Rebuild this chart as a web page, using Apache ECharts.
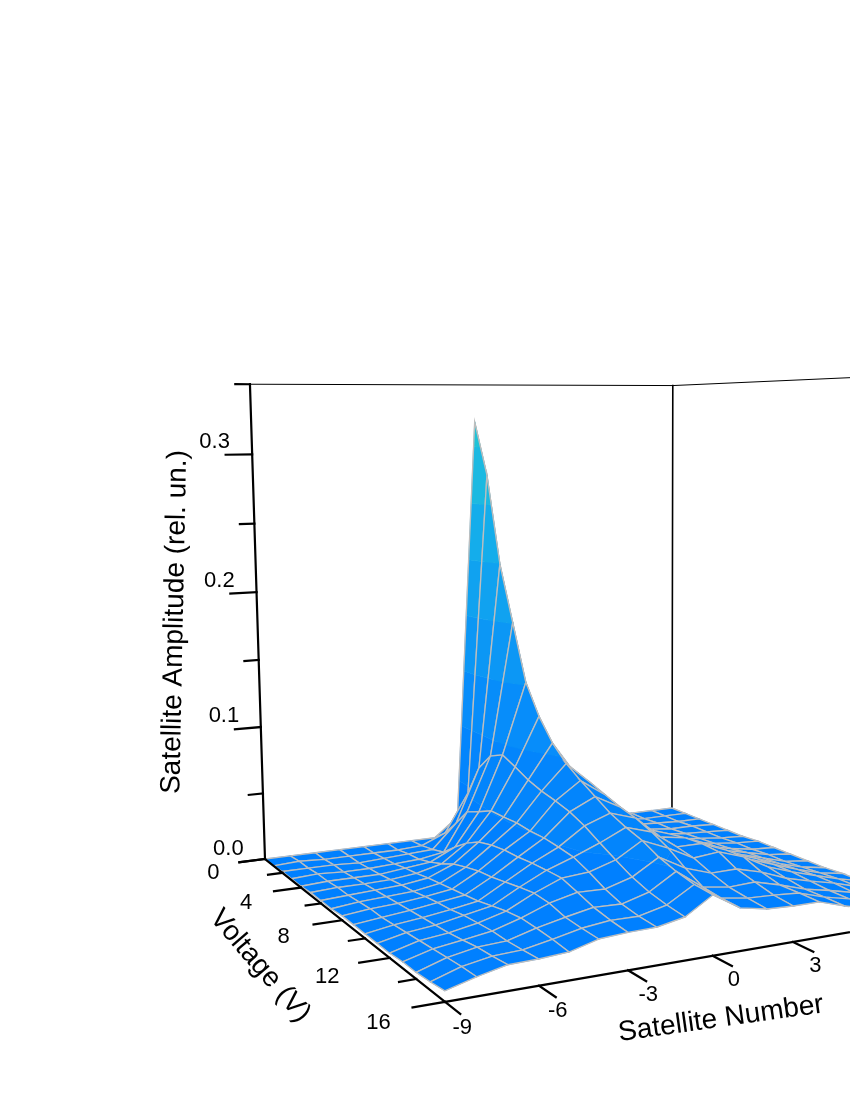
<!DOCTYPE html>
<html><head><meta charset="utf-8">
<style>html,body{margin:0;padding:0;background:#fff}#c{width:850px;height:1100px}</style>
<script src="https://cdn.jsdelivr.net/npm/echarts@6/dist/echarts.min.js"></script>
</head><body><div id="c"></div>
<script>
// Satellite numbers (columns) and voltages (rows)
const satelliteNumbers = [-9,-8,-7,-6,-5,-4,-3,-2,-1,0,1,2,3,4,5,6,7,8,9];
const voltages = [0,1,2,3,4,5,6,7,8,9,10,11,12,13,14,15,16];
// Amplitude per satellite number, one value per voltage
const ampM9 = [0,0,.001,.001,.001,.002,.002,.002,.003,.003,.003,.003,.003,.004,.004,.005,.0064];
const ampM8 = [0,.001,.001,.002,.002,.003,.003,.004,.005,.005,.006,.007,.008,.009,.010,.011,.0115];
const ampM7 = [0,0,.001,.001,.002,.003,.004,.005,.006,.007,.008,.009,.010,.0116,.0134,.0142,.0155];
const ampM6 = [0,0,0,.001,.002,.0035,.005,.006,.008,.0095,.0105,.0125,.0135,.0144,.0143,.015,.0159];
const ampM5 = [0,0,.001,.002,.004,.0055,.0075,.009,.0106,.012,.0136,.016,.0184,.0198,.0194,.0186,.0171];
const ampM4 = [0,0,.002,.003,.006,.010,.015,.018,.0205,.0217,.0237,.0257,.0273,.0265,.0234,.0225,.022];
const ampM3 = [0,.001,.003,.006,.0148,.0228,.0285,.0312,.0327,.0329,.0339,.0344,.0345,.0308,.0269,.0246,.0232];
const ampM2 = [0,.0087,.021,.0344,.039,.0442,.0443,.0447,.0437,.0437,.0424,.0407,.036,.0303,.0263,.0244,.0235];
const ampM1 = [.0144,.038,.0617,.0748,.0795,.0745,.069,.0653,.0627,.0595,.0545,.0478,.0415,.0355,.0313,.0287,.027];
const amp0  = [.322,.282,.216,.174,.132,.110,.094,.083,.075,.068,.061,.056,.052,.046,.042,.039,.038];
const ampP1 = [.010,.030,.045,.055,.062,.067,.068,.067,.0627,.0585,.0554,.0506,.0446,.0364,.0293,.0277,.0272];
const ampP2 = [.002,.008,.016,.024,.030,.034,.038,.040,.041,.041,.040,.038,.0355,.0306,.0267,.0251,.0238];
const ampP3 = [.001,.003,.007,.012,.016,.020,.024,.028,.032,.035,.037,.038,.0372,.0308,.0275,.0244,.023];
const ampP4 = [0,.002,.004,.006,.009,.012,.015,.019,.023,.027,.030,.031,.0314,.0262,.0229,.0231,.023];
const ampP5 = [0,.001,.002,.004,.006,.008,.010,.013,.016,.019,.021,.022,.022,.0195,.0175,.0178,.0176];
const ampP6 = [0,.001,.002,.003,.004,.005,.007,.009,.011,.013,.015,.016,.016,.015,.014,.014,.014];
const ampP7 = [0,0,.001,.001,.002,.003,.004,.005,.007,.008,.009,.010,.011,.011,.010,.010,.010];
const ampP8 = [0,0,0,.001,.001,.001,.002,.002,.003,.003,.004,.005,.006,.006,.006,.006,.006];
const ampP9 = [0,0,0,0,0,0,.001,.001,.001,.001,.001,.002,.002,.002,.002,.003,.003];
const amplitude = [ampM9,ampM8,ampM7,ampM6,ampM5,ampM4,ampM3,ampM2,ampM1,amp0,ampP1,ampP2,ampP3,ampP4,ampP5,ampP6,ampP7,ampP8,ampP9];
// Axis ticks
const ampTicks = [0,.05,.1,.15,.2,.25,.3,.35];
const ampLabels = {0:'0.0',.1:'0.1',.2:'0.2',.3:'0.3'};
const voltTicks = [0,2,4,6,8,10,12,14,16];
const voltLabels = {0:'0',4:'4',8:'8',12:'12',16:'16'};
const satTicks = [-9,-6,-3,0,3,6,9];
const bandColors = ['#0080ff','#0385fc','#078dfa','#0c97f5','#10a2f0','#14adeb','#1cb9e1','#1fc3d7'];
const bandStep = 0.0433;

// Perspective view: (satellite, voltage, amplitude) -> chart coordinate
function proj(s, v, a) {
  const p = s + 9;
  const w = 1 + .006876*p - .01556*v - .108*a;
  return [(265 + 27.23*p + 4.326*v - 70*a)/w, (859 + 2.723*p - 6.66*v - 1398*a)/w];
}
function clipBand(poly, lo, hi) {
  const clip = (pts, test, limit) => {
    const out = [];
    for (let i = 0; i < pts.length; i++) {
      const p = pts[i], q = pts[(i+1)%pts.length];
      const ip = test(p[2]), iq = test(q[2]);
      if (ip) out.push(p);
      if (ip !== iq) {
        const t = (limit - p[2])/(q[2]-p[2]);
        out.push([p[0]+t*(q[0]-p[0]), p[1]+t*(q[1]-p[1]), limit]);
      }
    }
    return out;
  };
  return clip(clip(poly, a => a >= lo, lo), a => a <= hi, hi);
}
const quads = [];
for (let vi = 0; vi < voltages.length-1; vi++)
  for (let si = satelliteNumbers.length-2; si >= 0; si--) quads.push([si, vi]);

const GREY = '#bebebe', FONT = '"Liberation Sans", Arial, sans-serif';
function renderQuad(params, api) {
  const si = api.value(0), vi = api.value(1);
  const corners = [[si,vi],[si+1,vi],[si+1,vi+1],[si,vi+1]]
    .map(c => [satelliteNumbers[c[0]], voltages[c[1]], amplitude[c[0]][c[1]]]);
  const toPx = c => api.coord(proj(c[0],c[1],c[2]));
  const children = [];
  bandColors.forEach((col, k) => {
    const part = clipBand(corners, k*bandStep, k === bandColors.length-1 ? 1 : (k+1)*bandStep);
    if (part.length > 2) children.push({type:'polygon', shape:{points:part.map(toPx)},
      style:{fill:col, stroke:col, lineWidth:.6}});
  });
  children.push({type:'polygon', shape:{points:corners.map(toPx)},
    style:{fill:'none', stroke:GREY, lineWidth:1.35}});
  return {type:'group', children};
}
function seg(api, a, b, lw) {
  const p = api.coord(a), q = api.coord(b);
  return {type:'line', shape:{x1:p[0],y1:p[1],x2:q[0],y2:q[1]}, style:{stroke:'#000', lineWidth:lw, lineCap:'square'}};
}
function txt(api, pos, s, size, rot) {
  const p = api.coord(pos);
  return {type:'text', x:p[0], y:p[1], rotation:rot||0,
    style:{text:s, fontFamily:FONT, fontSize:size, fill:'#000', align:'center', verticalAlign:'middle'}};
}
const S0 = satelliteNumbers[0], S1 = satelliteNumbers[satelliteNumbers.length-1];
const V1 = voltages[voltages.length-1], Atop = ampTicks[ampTicks.length-1];
function renderWalls(params, api) {
  return {type:'group', children:[
    seg(api, proj(S0,0,Atop), proj(S1,0,Atop), 1),
    seg(api, proj(S1,0,Atop), proj(S1,V1,Atop), 1),
    seg(api, proj(S1,0,0), proj(S1,0,Atop), 1.6)
  ]};
}
function renderAxes(params, api) {
  const c = [];
  c.push(seg(api, proj(S0,0,0), proj(S0,0,Atop), 2.2));
  c.push(seg(api, proj(S0,0,0), proj(S0,V1+1,0), 2.2));
  c.push(seg(api, proj(S0,V1,0), proj(S1,V1,0), 2.2));
  // amplitude ticks
  ampTicks.forEach(a => {
    const lab = ampLabels[a], end = proj(S0-(lab?1:.55),0,a);
    c.push(seg(api, proj(S0,0,a), end, 2.2));
    if (lab) c.push(txt(api, [end[0]-11,end[1]-13], lab, 22));
  });
  // voltage ticks
  voltTicks.forEach(v => {
    const lab = voltLabels[v], end = proj(S0-(lab?1:.55),v,0);
    c.push(seg(api, proj(S0,v,0), end, 2.2));
    if (lab) c.push(txt(api, [end[0]-26-v/2, end[1]+11+v/4], lab, 22));
  });
  // satellite ticks
  satTicks.forEach(s => {
    const end = proj(s,V1+1,0);
    if (s !== S0) c.push(seg(api, proj(s,V1,0), end, 2.2));
    c.push(txt(api, [end[0]+2,end[1]+14], String(s), 22));
  });
  c.push(txt(api, [175,622], 'Satellite Amplitude (rel. un.)', 28, Math.PI/2 - .02));
  c.push(txt(api, [260,966], 'Voltage (V)', 28, -0.86));
  c.push(txt(api, [721,1019], 'Satellite Number', 28, 0.14));
  return {type:'group', children:c};
}
const chart = echarts.init(document.getElementById('c'), null, {renderer:'canvas'});
chart.setOption({
  animation:false,
  backgroundColor:'#fff',
  grid:{left:0,right:0,top:0,bottom:0},
  xAxis:{type:'value',min:0,max:850,show:false},
  yAxis:{type:'value',min:0,max:1100,inverse:true,show:false},
  series:[
    {type:'custom',coordinateSystem:'cartesian2d',z:1,silent:true,clip:false,renderItem:renderWalls,data:[[0,0]]},
    {type:'custom',coordinateSystem:'cartesian2d',z:2,silent:true,clip:false,progressive:0,renderItem:renderQuad,data:quads},
    {type:'custom',coordinateSystem:'cartesian2d',z:3,silent:true,clip:false,renderItem:renderAxes,data:[[0,0]]}
  ]
});
</script></body></html>
